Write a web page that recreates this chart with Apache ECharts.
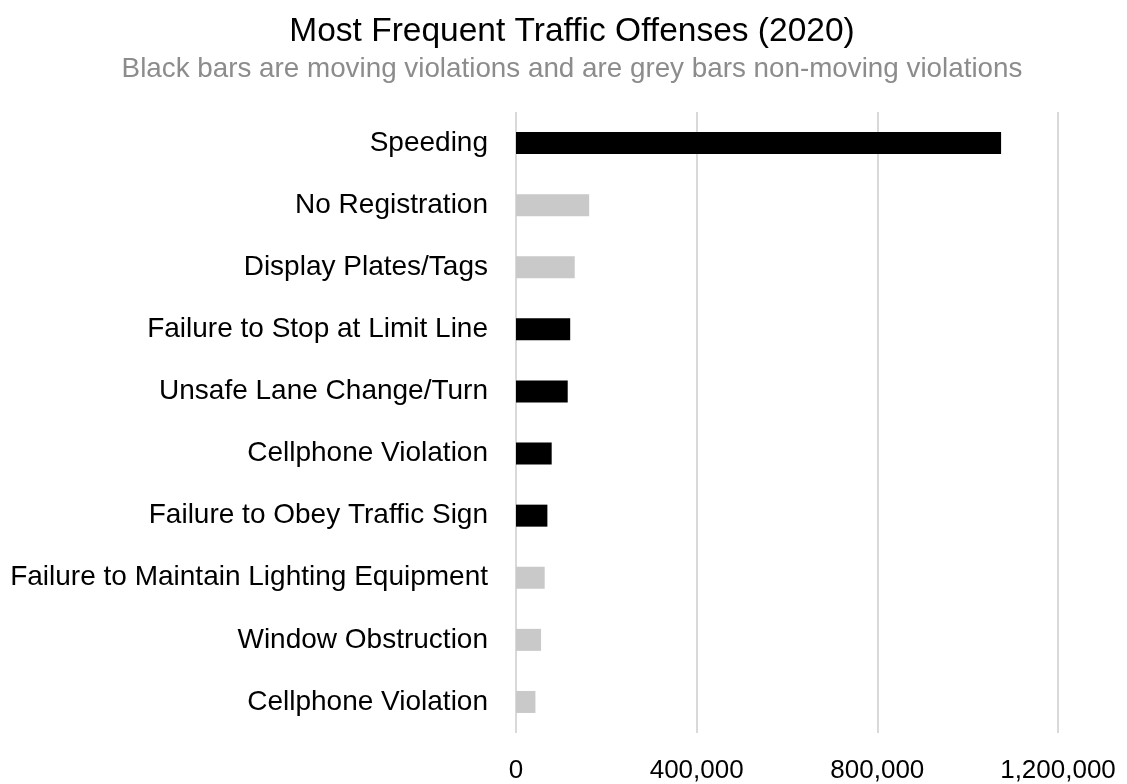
<!DOCTYPE html>
<html>
<head>
<meta charset="utf-8">
<script src="https://cdn.jsdelivr.net/npm/echarts@6/dist/echarts.min.js"></script>
<style>
html,body{margin:0;padding:0;background:#fff;}
#chart{width:1127px;height:784px;}
</style>
</head>
<body>
<div id="chart"></div>
<script>
var categories = [
  "Speeding",
  "No Registration",
  "Display Plates/Tags",
  "Failure to Stop at Limit Line",
  "Unsafe Lane Change/Turn",
  "Cellphone Violation",
  "Failure to Obey Traffic Sign",
  "Failure to Maintain Lighting Equipment",
  "Window Obstruction",
  "Cellphone Violation "
];
var counts = [1074000, 162000, 130000, 120000, 114500, 79000, 69500, 63500, 55500, 43000];
var isMoving = [true, false, false, true, true, true, true, false, false, false];
var xTicks = [0, 400000, 800000, 1200000];

var chart = echarts.init(document.getElementById('chart'));
var FONT = '"Liberation Sans", Arial, sans-serif';
var data = counts.map(function (v, i) {
  return { value: v, itemStyle: { color: isMoving[i] ? '#000000' : '#c9c9c9' } };
});
chart.setOption({
  animation: false,
  backgroundColor: '#ffffff',
  title: {
    text: 'Most Frequent Traffic Offenses (2020)',
    subtext: 'Black bars are moving violations and are grey bars non-moving violations',
    left: 567,
    textAlign: 'center',
    top: 10,
    itemGap: 6,
    textStyle: { fontFamily: FONT, fontSize: 33.5, fontWeight: 'normal', color: '#000000' },
    subtextStyle: { fontFamily: FONT, fontSize: 27.8, color: '#8c8c8c' }
  },
  grid: { left: 516, right: 69, top: 112, bottom: 51, containLabel: false },
  xAxis: {
    type: 'value',
    min: xTicks[0],
    max: xTicks[xTicks.length - 1],
    interval: xTicks[1] - xTicks[0],
    axisLine: { show: false },
    axisTick: { show: false },
    splitLine: { show: true, lineStyle: { color: '#d9d9d9', width: 2 } },
    axisLabel: {
      margin: 25,
      fontFamily: FONT,
      fontSize: 26,
      color: '#000000',
      formatter: function (v) { return v.toLocaleString('en-US'); }
    }
  },
  yAxis: {
    type: 'category',
    data: categories,
    inverse: true,
    axisLine: { show: false },
    axisTick: { show: false },
    splitLine: { show: false },
    axisLabel: {
      margin: 28,
      fontFamily: FONT,
      fontSize: 28,
      color: '#000000',
      formatter: function (v) { return v.trim(); }
    }
  },
  series: [{
    type: 'bar',
    data: data,
    barWidth: 22
  }]
});
</script>
</body>
</html>
